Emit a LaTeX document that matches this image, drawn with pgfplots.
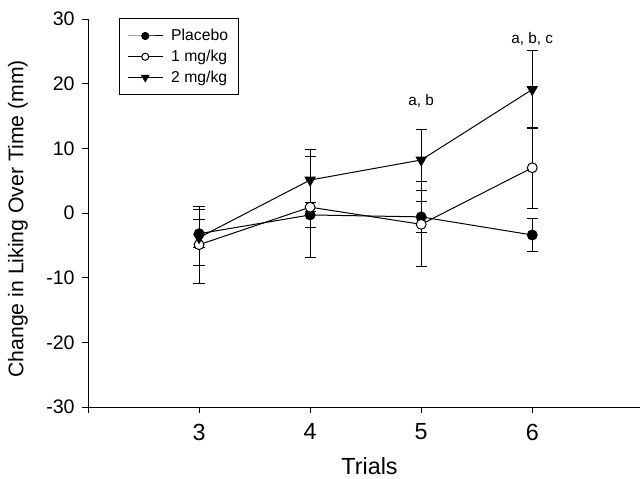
\documentclass[border=0pt]{standalone}
\usepackage{fontspec}
\setmainfont{Liberation Sans}
\usepackage{pgfplots}
\pgfplotsset{compat=1.18}

\begin{document}
\begin{tikzpicture}
\begin{axis}[
  at={(0pt,0pt)}, anchor=south west,
  scale only axis, width=414pt, height=291pt,
  xmin=2, xmax=6.97, ymin=-30, ymax=30,
  axis x line*=bottom, axis y line*=left,
  axis line style={line width=0.7pt, -},
  xtick={2,3,4,5,6}, xticklabels={,3,4,5,6},
  ytick={-30,-20,...,30},
  tick align=outside, major tick length=4.5pt,
  tick style={line width=0.6pt, black},
  /pgf/number format/assume math mode=true,
  x tick label style={font=\fontsize{17.5}{20}\selectfont, yshift=-4.5pt},
  y tick label style={font=\fontsize{14.7}{17}\selectfont, xshift=-2pt},
  xlabel={Trials}, ylabel={Change in Liking Over Time (mm)},
  xlabel style={font=\fontsize{17.5}{20}\selectfont, at={(axis description cs:0.51,-0.152)}, anchor=center},
  ylabel style={font=\fontsize{15.9}{18}\selectfont, at={(axis description cs:-0.127,0.485)}, anchor=center},
  every axis plot/.append style={line width=0.75pt, black},
  error bars/y dir=both, error bars/y explicit,
  error bars/error bar style={line width=0.7pt, black},
  error bars/error mark options={rotate=90, mark size=4.2pt, line width=0.7pt, black},
  legend style={at={(rel axis cs:0.056,1.002)}, anchor=north west, draw=black, line width=0.6pt,
    font=\fontsize{11.8}{14}\selectfont, inner xsep=6pt, inner ysep=6pt, row sep=1.5pt,
    legend cell align=left},
  legend image code/.code={\draw[every mark/.append style={scale=0.72}, mark repeat=2, mark phase=2]
    plot coordinates {(0.06cm,0cm) (0.52cm,0cm) (0.98cm,0cm)}; \path (1.12cm,0cm);},
]
% Placebo
\addplot[mark=*, mark size=3.7pt, mark options={fill=black, solid}]
  coordinates {(3,-3.2) +- (0,2.2) (4,-0.3) +- (0,1.9) (5,-0.6) +- (0,2.46) (6,-3.4) +- (0,2.5)};
\addlegendentry{Placebo\hspace{5pt}}
% 1 mg/kg
\addplot[mark=*, mark size=3.7pt, mark options={fill=white, solid}]
  coordinates {(3,-4.9) +- (0,5.95) (4,0.9) +- (0,7.8) (5,-1.75) +- (0,6.55) (6,7.0) +- (0,6.3)};
\addlegendentry{1 mg/kg}
% 2 mg/kg
\addplot[mark=triangle*, mark size=4.3pt, mark options={fill=black, solid, rotate=180}]
  coordinates {(3,-3.8) +- (0,4.3) (4,5.1) +- (0,4.8) (5,8.2) +- (0,4.75) (6,19.1) +- (0,6.0)};
\addlegendentry{2 mg/kg}
\node[font=\fontsize{11.5}{14}\selectfont] at (axis cs:5,17.4) {a, b};
\node[font=\fontsize{11.5}{14}\selectfont] at (axis cs:6,26.9) {a, b, c};
\end{axis}
\pgfresetboundingbox
\path[use as bounding box] (-66pt,-53.25pt) rectangle (414.75pt,305.25pt);
\end{tikzpicture}
\end{document}
